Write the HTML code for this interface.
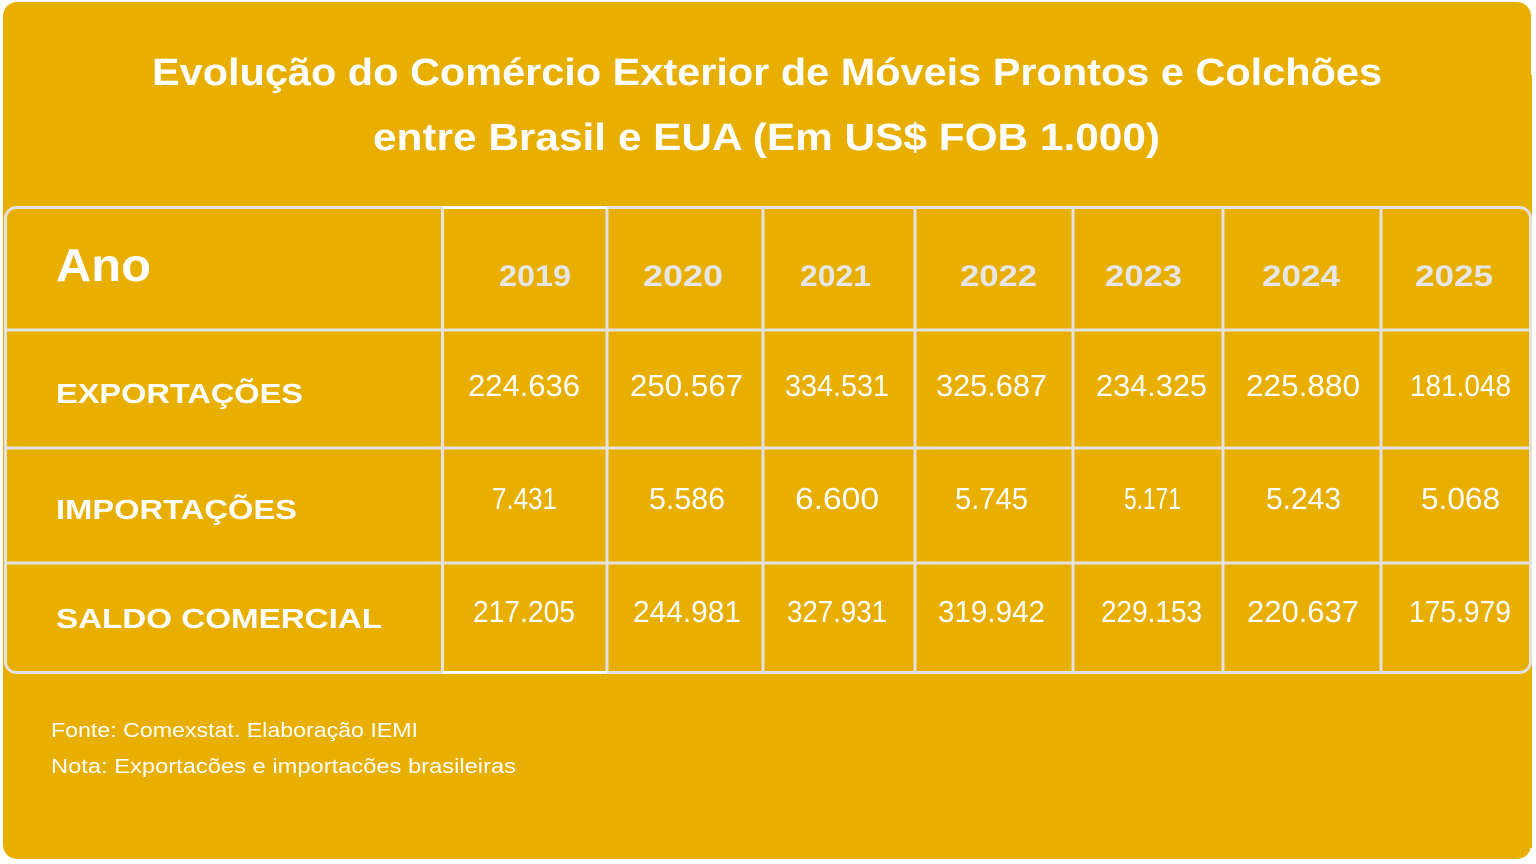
<!DOCTYPE html>
<html>
<head>
<meta charset="utf-8">
<style>
  html, body { margin: 0; padding: 0; background: #ffffff; }
  body { width: 1536px; height: 864px; overflow: hidden; }
  svg { display: block; }
  text { font-family: "Liberation Sans", "DejaVu Sans", sans-serif; }
</style>
</head>
<body>
<svg width="1536" height="864" viewBox="0 0 1536 864" xmlns="http://www.w3.org/2000/svg">
  <!-- card background -->
  <rect x="3" y="2" width="1528" height="857" rx="14" ry="14" fill="#E8AE00"/>
  <rect x="1520" y="75" width="12" height="773" fill="#E8AE00"/>

  <!-- Title -->
  <text x="152" y="85" font-size="38" font-weight="bold" fill="#ffffff" textLength="1230" lengthAdjust="spacingAndGlyphs">Evolução do Comércio Exterior de Móveis Prontos e Colchões</text>
  <text x="373" y="150" font-size="38" font-weight="bold" fill="#ffffff" textLength="787" lengthAdjust="spacingAndGlyphs">entre Brasil e EUA (Em US$ FOB 1.000)</text>

  <!-- Table grid -->
  <g stroke="#E2E2E2" stroke-width="3" fill="none">
    <rect x="5.5" y="207.5" width="1525" height="465" rx="11" ry="11"/>
    <line x1="442.5" y1="207" x2="442.5" y2="673"/>
    <line x1="607" y1="207" x2="607" y2="673"/>
    <line x1="763" y1="207" x2="763" y2="673"/>
    <line x1="915" y1="207" x2="915" y2="673"/>
    <line x1="1073" y1="207" x2="1073" y2="673"/>
    <line x1="1223" y1="207" x2="1223" y2="673"/>
    <line x1="1381" y1="207" x2="1381" y2="673"/>
    <line x1="5" y1="330" x2="1531" y2="330"/>
    <line x1="5" y1="448" x2="1531" y2="448"/>
    <line x1="5" y1="563" x2="1531" y2="563"/>
  </g>
  <!-- highlighted 2019 column top/bottom -->
  <line x1="443" y1="207.5" x2="607" y2="207.5" stroke="#ffffff" stroke-width="3"/>
  <line x1="443" y1="672.5" x2="607" y2="672.5" stroke="#ffffff" stroke-width="3"/>

  <!-- Header row -->
  <text x="56" y="281" font-size="46" font-weight="bold" fill="#ffffff" textLength="95" lengthAdjust="spacingAndGlyphs">Ano</text>
  <g font-size="30" font-weight="bold" fill="#E6E6E6">
    <text x="499" y="286" textLength="72" lengthAdjust="spacingAndGlyphs">2019</text>
    <text x="643" y="286" textLength="80" lengthAdjust="spacingAndGlyphs">2020</text>
    <text x="800" y="286" textLength="71" lengthAdjust="spacingAndGlyphs">2021</text>
    <text x="960" y="286" textLength="77" lengthAdjust="spacingAndGlyphs">2022</text>
    <text x="1105" y="286" textLength="77" lengthAdjust="spacingAndGlyphs">2023</text>
    <text x="1262" y="286" textLength="78" lengthAdjust="spacingAndGlyphs">2024</text>
    <text x="1415" y="286" textLength="78" lengthAdjust="spacingAndGlyphs">2025</text>
  </g>

  <!-- Row labels -->
  <g font-size="28" font-weight="bold" fill="#ffffff">
    <text x="56" y="403" textLength="247" lengthAdjust="spacingAndGlyphs">EXPORTAÇÕES</text>
    <text x="56" y="519" textLength="241" lengthAdjust="spacingAndGlyphs">IMPORTAÇÕES</text>
    <text x="56" y="628" textLength="326" lengthAdjust="spacingAndGlyphs">SALDO COMERCIAL</text>
  </g>

  <!-- Values -->
  <g font-size="31" fill="#ffffff">
    <text x="468" y="396" textLength="112" lengthAdjust="spacingAndGlyphs">224.636</text>
    <text x="630" y="396" textLength="113" lengthAdjust="spacingAndGlyphs">250.567</text>
    <text x="785" y="396" textLength="104" lengthAdjust="spacingAndGlyphs">334.531</text>
    <text x="936" y="396" textLength="111" lengthAdjust="spacingAndGlyphs">325.687</text>
    <text x="1096" y="396" textLength="111" lengthAdjust="spacingAndGlyphs">234.325</text>
    <text x="1246" y="396" textLength="114" lengthAdjust="spacingAndGlyphs">225.880</text>
    <text x="1410" y="396" textLength="101" lengthAdjust="spacingAndGlyphs">181.048</text>

    <text x="492" y="509" textLength="65" lengthAdjust="spacingAndGlyphs">7.431</text>
    <text x="649" y="509" textLength="76" lengthAdjust="spacingAndGlyphs">5.586</text>
    <text x="795" y="509" textLength="84" lengthAdjust="spacingAndGlyphs">6.600</text>
    <text x="955" y="509" textLength="73" lengthAdjust="spacingAndGlyphs">5.745</text>
    <text x="1124" y="509" textLength="57" lengthAdjust="spacingAndGlyphs">5.171</text>
    <text x="1266" y="509" textLength="75" lengthAdjust="spacingAndGlyphs">5.243</text>
    <text x="1421" y="509" textLength="79" lengthAdjust="spacingAndGlyphs">5.068</text>

    <text x="473" y="622" textLength="102" lengthAdjust="spacingAndGlyphs">217.205</text>
    <text x="633" y="622" textLength="108" lengthAdjust="spacingAndGlyphs">244.981</text>
    <text x="787" y="622" textLength="100" lengthAdjust="spacingAndGlyphs">327.931</text>
    <text x="938" y="622" textLength="107" lengthAdjust="spacingAndGlyphs">319.942</text>
    <text x="1101" y="622" textLength="101" lengthAdjust="spacingAndGlyphs">229.153</text>
    <text x="1247" y="622" textLength="112" lengthAdjust="spacingAndGlyphs">220.637</text>
    <text x="1409" y="622" textLength="102" lengthAdjust="spacingAndGlyphs">175.979</text>
  </g>

  <!-- Footnotes -->
  <g font-size="20" fill="#ffffff">
    <text x="51" y="737" textLength="367" lengthAdjust="spacingAndGlyphs">Fonte: Comexstat. Elaboração IEMI</text>
    <text x="51" y="773" textLength="465" lengthAdjust="spacingAndGlyphs">Nota: Exportacões e importacões brasileiras</text>
  </g>
</svg>
</body>
</html>
